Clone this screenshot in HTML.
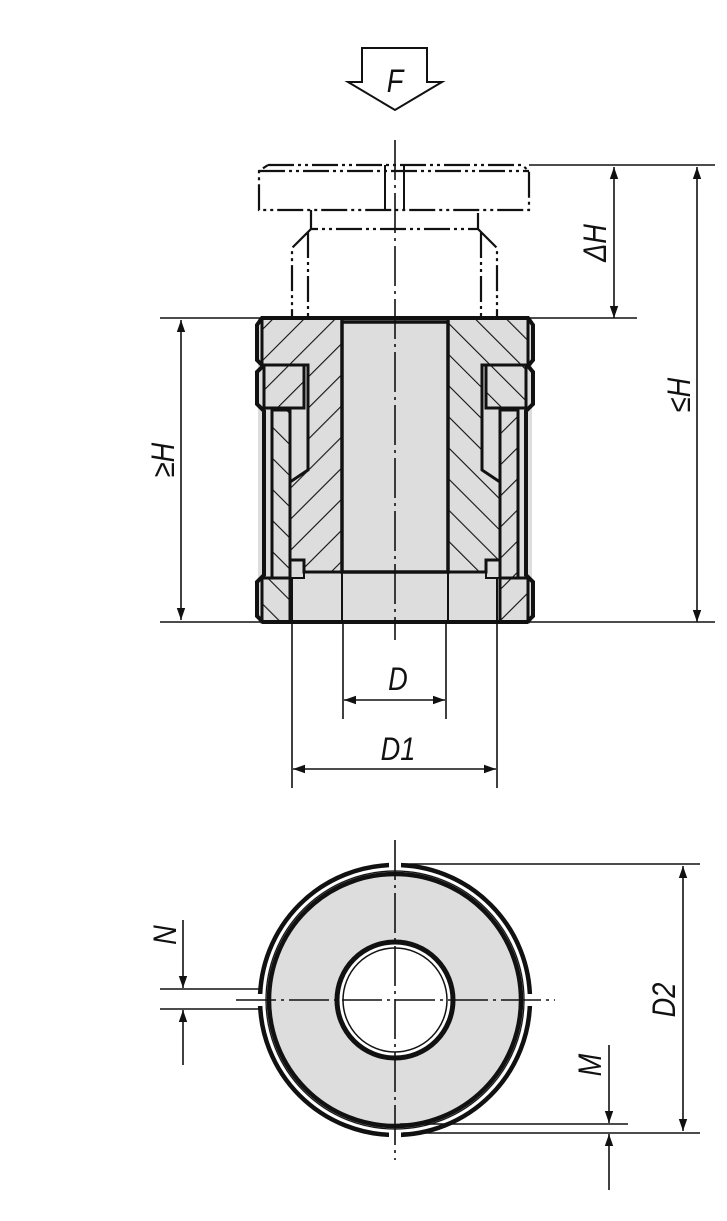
<!DOCTYPE html>
<html><head><meta charset="utf-8"><style>
html,body{margin:0;padding:0;background:#fff}
svg{display:block}
text{font-family:"Liberation Sans",sans-serif;font-style:italic;font-size:32px;fill:#111}
</style></head><body>
<svg width="727" height="1221" viewBox="0 0 727 1221" xmlns="http://www.w3.org/2000/svg">
<defs>
<pattern id="hf" patternUnits="userSpaceOnUse" width="22" height="22" patternTransform="rotate(45)">
<rect width="22" height="22" fill="#ddd"/><line x1="0" y1="0" x2="0" y2="22" stroke="#111" stroke-width="2.2"/></pattern>
<pattern id="hb" patternUnits="userSpaceOnUse" width="22" height="22" patternTransform="rotate(-45)">
<rect width="22" height="22" fill="#ddd"/><line x1="0" y1="0" x2="0" y2="22" stroke="#111" stroke-width="2.2"/></pattern>
<marker id="ar" viewBox="0 0 10 10" refX="10" refY="5" markerWidth="34" markerHeight="12" markerUnits="userSpaceOnUse" orient="auto-start-reverse"><path d="M0,1.5 L10,5 L0,8.5 Z" fill="#111"/></marker>
</defs>
<g fill="none" stroke="#111" stroke-width="2">
<path d="M362,48 H427 V82 H442 L395,110 L348,82 H362 Z" stroke-width="2"/>
<g stroke-dasharray="26,4,3,4,3,4" stroke-width="2.2">
<path d="M268,165 H522 L529,171 V210 H259 V171 L268,165"/>
<path d="M259,171 H529"/>
<path d="M311,210 V229 H478 V210"/>
<path d="M311,229 L292,248 V318 M308,232 V318 M478,229 L497,248 V318 M481,232 V318"/>
</g>
<path d="M385,165 V210 M404,165 V210"/>
<path d="M258,318 H532 V622 H258 Z" fill="#ddd" stroke="none"/>
<path d="M262,318 H342 V572 H304 V560 H290 V482 L308,470 V365 H262 Z" fill="url(#hf)" stroke-width="3"/>
<path d="M528,318 H448 V572 H486 V560 H500 V482 L482,470 V365 H528 Z" fill="url(#hb)" stroke-width="3"/>
<path d="M264,365 H304 V408 H264 Z" fill="url(#hf)" stroke-width="3"/>
<path d="M526,365 H486 V408 H526 Z" fill="url(#hb)" stroke-width="3"/>
<path d="M272,410 H290 V578 H272 Z" fill="url(#hb)" stroke-width="3"/>
<path d="M518,410 H500 V578 H518 Z" fill="url(#hf)" stroke-width="3"/>
<path d="M262,578 H290 V622 H262 Z" fill="url(#hb)" stroke-width="3"/>
<path d="M528,578 H500 V622 H528 Z" fill="url(#hf)" stroke-width="3"/>
<path d="M342,322 H448 V572 H342 Z" fill="#ddd" stroke-width="3.5"/>
<path d="M262,318 H528 L533,325 V360 L528,366 L533,372 V404 L526,411 V575 L533,582 V616 L527,622 H263 L257,616 V582 L264,575 V411 L257,404 V372 L263,366 L257,360 V325 Z" stroke-width="4"/>
<path d="M290,578 H304 V572 M500,578 H486 V572 M292,622 V578 M342,622 V572 M448,622 V572 M497,622 V578" stroke-width="2"/>
<path d="M395,140 V640" stroke-dasharray="40,5,3,5" stroke-width="1.6"/>
<path d="M529,165 H715 M160,318 H637 M500,622 H715 M160,622 H262" stroke-width="1.6"/>
<path d="M614,318 V167" marker-end="url(#ar)" marker-start="url(#ar)" stroke-width="1.6"/>
<path d="M697,622 V167" marker-end="url(#ar)" marker-start="url(#ar)" stroke-width="1.6"/>
<path d="M181,320 V620" marker-end="url(#ar)" marker-start="url(#ar)" stroke-width="1.6"/>
<path d="M343,622 V719 M446,622 V719 M292,622 V788 M497,622 V788" stroke-width="1.6"/>
<path d="M344,700 H445" marker-end="url(#ar)" marker-start="url(#ar)" stroke-width="1.6"/>
<path d="M293,769 H496" marker-end="url(#ar)" marker-start="url(#ar)" stroke-width="1.6"/>
<circle cx="395" cy="1000" r="130" fill="#ddd" stroke="none"/>
<circle cx="395" cy="1000" r="135" stroke-width="4.5"/>
<circle cx="395" cy="1000" r="129" stroke-width="1.2"/>
<circle cx="395" cy="1000" r="126" stroke-width="4.5"/>
<circle cx="395" cy="1000" r="58" fill="#fff" stroke-width="5"/>
<circle cx="395" cy="1000" r="52" stroke-width="1.5"/>
<rect x="389" y="858" width="12" height="10" fill="#fff" stroke="none"/>
<rect x="389" y="1132" width="12" height="10" fill="#fff" stroke="none"/>
<rect x="255" y="994" width="10" height="12" fill="#fff" stroke="none"/>
<rect x="525" y="994" width="10" height="12" fill="#fff" stroke="none"/>
<path d="M395,840 V1160 M236,1000 H555" stroke-dasharray="40,5,3,5" stroke-width="1.6"/>
<path d="M403,864 H700 M400,1124 H628 M403,1133 H700 M160,989 H262 M160,1009 H262" stroke-width="1.6"/>
<path d="M683,866 V1131" marker-end="url(#ar)" marker-start="url(#ar)" stroke-width="1.6"/>
<path d="M183,920 V988" marker-end="url(#ar)" stroke-width="1.6"/>
<path d="M183,1065 V1010" marker-end="url(#ar)" stroke-width="1.6"/>
<path d="M609,1045 V1123" marker-end="url(#ar)" stroke-width="1.6"/>
<path d="M609,1190 V1134" marker-end="url(#ar)" stroke-width="1.6"/>
</g>
<text transform="translate(395,92) scale(0.85,1)" text-anchor="middle">F</text>
<text transform="translate(398,690) scale(0.85,1)" text-anchor="middle">D</text>
<text transform="translate(398,760) scale(0.85,1)" text-anchor="middle">D1</text>
<text transform="translate(606,243) rotate(-90) scale(0.85,1)" text-anchor="middle">ΔH</text>
<text transform="translate(690,395) rotate(-90) scale(0.85,1)" text-anchor="middle">≤H</text>
<text transform="translate(174,460) rotate(-90) scale(0.85,1)" text-anchor="middle">≥H</text>
<text transform="translate(176,935) rotate(-90) scale(0.85,1)" text-anchor="middle">N</text>
<text transform="translate(601,1065) rotate(-90) scale(0.85,1)" text-anchor="middle">M</text>
<text transform="translate(675,1000) rotate(-90) scale(0.85,1)" text-anchor="middle">D2</text>
</svg>
</body></html>
